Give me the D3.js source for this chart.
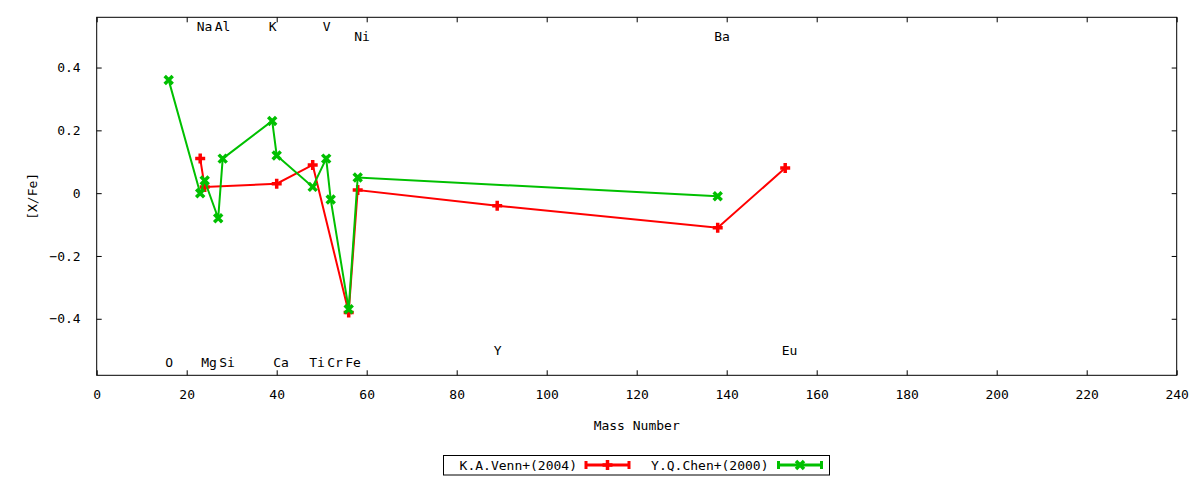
<!DOCTYPE html>
<html>
<head>
<meta charset="utf-8">
<script src="https://cdn.jsdelivr.net/npm/d3@7"></script>
<style>
  body { margin: 0; background: #fff; }
  text { font-family: "DejaVu Sans Mono", monospace; font-size: 13px; fill: #000; }
</style>
</head>
<body>
<svg id="chart"></svg>
<script>
const W = 1200
const H = 480
const PLOT = {left: 96.7, right: 1176.7, top: 17.3, bottom: 375.3}

// K.A.Venn+(2004)
const vennElements = ["Na", "Mg", "Ca", "Ti", "Fe", "Ni", "Y", "Ba", "Eu"]
const vennMass = [23, 24, 40, 48, 56, 58, 89, 138, 153]
const vennXFe = [0.11, 0.02, 0.03, 0.09, -0.38, 0.01, -0.04, -0.11, 0.08]

// Y.Q.Chen+(2000)
const chenElements = ["O", "Na", "Mg", "Al", "Si", "K", "Ca", "Ti", "V", "Cr", "Fe", "Ni", "Ba"]
const chenMass = [16, 23, 24, 27, 28, 39, 40, 48, 51, 52, 56, 58, 138]
const chenXFe = [0.36, 0.0, 0.04, -0.08, 0.11, 0.23, 0.12, 0.02, 0.11, -0.02, -0.37, 0.05, -0.01]

// element name labels placed in the plot
const labelNames = ["Na", "Al", "K", "V", "Ni", "Ba", "O", "Mg", "Si", "Ca", "Ti", "Cr", "Fe", "Y", "Eu"]
const labelMass = [23, 27, 39, 51, 58, 138, 16, 24, 28, 40, 48, 52, 56, 89, 153]
const labelY = [0.53, 0.53, 0.53, 0.53, 0.5, 0.5, -0.54, -0.54, -0.54, -0.54, -0.54, -0.54, -0.54, -0.5, -0.5]

const xTicks = [0, 20, 40, 60, 80, 100, 120, 140, 160, 180, 200, 220, 240]
const yTicks = [-0.4, -0.2, 0, 0.2, 0.4]
const xDomain = [0, 240]
const yDomain = [-0.58, 0.56]

const RED = "#ff0000"
const GREEN = "#00c000"

const svg = d3.select("#chart").attr("width", W).attr("height", H)

const x = d3.scaleLinear().domain(xDomain).range([PLOT.left, PLOT.right])
const y = d3.scaleLinear().domain(yDomain).range([PLOT.bottom, PLOT.top])

// ticks on all four sides, pointing inward
const TICK = 5
const axes = svg.append("g")
axes.append("g")
  .attr("transform", `translate(0,${PLOT.bottom})`)
  .call(d3.axisBottom(x).tickValues(xTicks).tickSizeInner(-TICK).tickSizeOuter(0).tickPadding(14).tickFormat(d3.format("d")))
axes.append("g")
  .attr("transform", `translate(0,${PLOT.top})`)
  .call(d3.axisTop(x).tickValues(xTicks).tickSizeInner(-TICK).tickSizeOuter(0).tickFormat(""))
axes.append("g")
  .attr("transform", `translate(${PLOT.left},0)`)
  .call(d3.axisLeft(y).tickValues(yTicks).tickSizeInner(-TICK).tickSizeOuter(0).tickPadding(16)
    .tickFormat((d) => (d === 0 ? "0" : d3.format(".1f")(d))))
axes.append("g")
  .attr("transform", `translate(${PLOT.right},0)`)
  .call(d3.axisRight(y).tickValues(yTicks).tickSizeInner(-TICK).tickSizeOuter(0).tickFormat(""))
axes.selectAll(".domain").remove()
axes.selectAll(".tick line").attr("stroke", "#000").attr("stroke-width", 1)
axes.selectAll(".tick text")
  .attr("font-family", "DejaVu Sans Mono, monospace")
  .attr("font-size", 13)
  .attr("fill", "#000")

svg.append("rect")
  .attr("x", PLOT.left)
  .attr("y", PLOT.top)
  .attr("width", PLOT.right - PLOT.left)
  .attr("height", PLOT.bottom - PLOT.top)
  .attr("fill", "none")
  .attr("stroke", "#000")
  .attr("stroke-width", 1)

// axis titles
svg.append("text")
  .attr("x", (PLOT.left + PLOT.right) / 2)
  .attr("y", 425)
  .attr("text-anchor", "middle")
  .attr("dominant-baseline", "central")
  .text("Mass Number")
svg.append("text")
  .attr("transform", `translate(32,${(PLOT.top + PLOT.bottom) / 2}) rotate(-90)`)
  .attr("text-anchor", "middle")
  .attr("dominant-baseline", "central")
  .text("[X/Fe]")

// element labels (left-justified, like gnuplot labels)
svg.append("g")
  .selectAll("text")
  .data(labelNames)
  .enter()
  .append("text")
  .attr("x", (d, i) => x(labelMass[i]) - 3.5)
  .attr("y", (d, i) => y(labelY[i]))
  .attr("dominant-baseline", "central")
  .text((d) => d)

const plusPath = "M-5,0H5M0,-5V5"
const crossPath = "M-4,-4L4,4M-4,4L4,-4"

function drawSeries(mass, vals, color, marker) {
  const pts = mass.map((m, i) => [x(m), y(vals[i])])
  const g = svg.append("g")
  g.append("path")
    .attr("d", d3.line()(pts))
    .attr("fill", "none")
    .attr("stroke", color)
    .attr("stroke-width", 2)
  g.selectAll(".pt")
    .data(pts)
    .enter()
    .append("path")
    .attr("class", "pt")
    .attr("transform", (d) => `translate(${d[0]},${d[1]})`)
    .attr("d", marker)
    .attr("stroke", color)
    .attr("stroke-width", 3.5)
    .attr("fill", "none")
}

drawSeries(vennMass, vennXFe, RED, plusPath)
drawSeries(chenMass, chenXFe, GREEN, crossPath)

// legend
const legend = svg.append("g")
legend.append("rect")
  .attr("x", 443.5)
  .attr("y", 455.5)
  .attr("width", 386)
  .attr("height", 19.5)
  .attr("fill", "none")
  .attr("stroke", "#000")
  .attr("stroke-width", 1)

const legendItems = [
  {name: "K.A.Venn+(2004)", color: RED, marker: plusPath, textEnd: 577, x0: 586, x1: 629},
  {name: "Y.Q.Chen+(2000)", color: GREEN, marker: crossPath, textEnd: 768.5, x0: 778.5, x1: 821.5},
]
const LY = 465
legendItems.forEach((it) => {
  legend.append("text")
    .attr("x", it.textEnd)
    .attr("y", LY)
    .attr("text-anchor", "end")
    .attr("dominant-baseline", "central")
    .text(it.name)
  legend.append("path")
    .attr("d", `M${it.x0},${LY}H${it.x1}M${it.x0},${LY - 4}V${LY + 4}M${it.x1},${LY - 4}V${LY + 4}`)
    .attr("stroke", it.color)
    .attr("stroke-width", 3)
    .attr("fill", "none")
  legend.append("path")
    .attr("transform", `translate(${(it.x0 + it.x1) / 2},${LY})`)
    .attr("d", it.marker)
    .attr("stroke", it.color)
    .attr("stroke-width", 3.5)
    .attr("fill", "none")
})
</script>
</body>
</html>
